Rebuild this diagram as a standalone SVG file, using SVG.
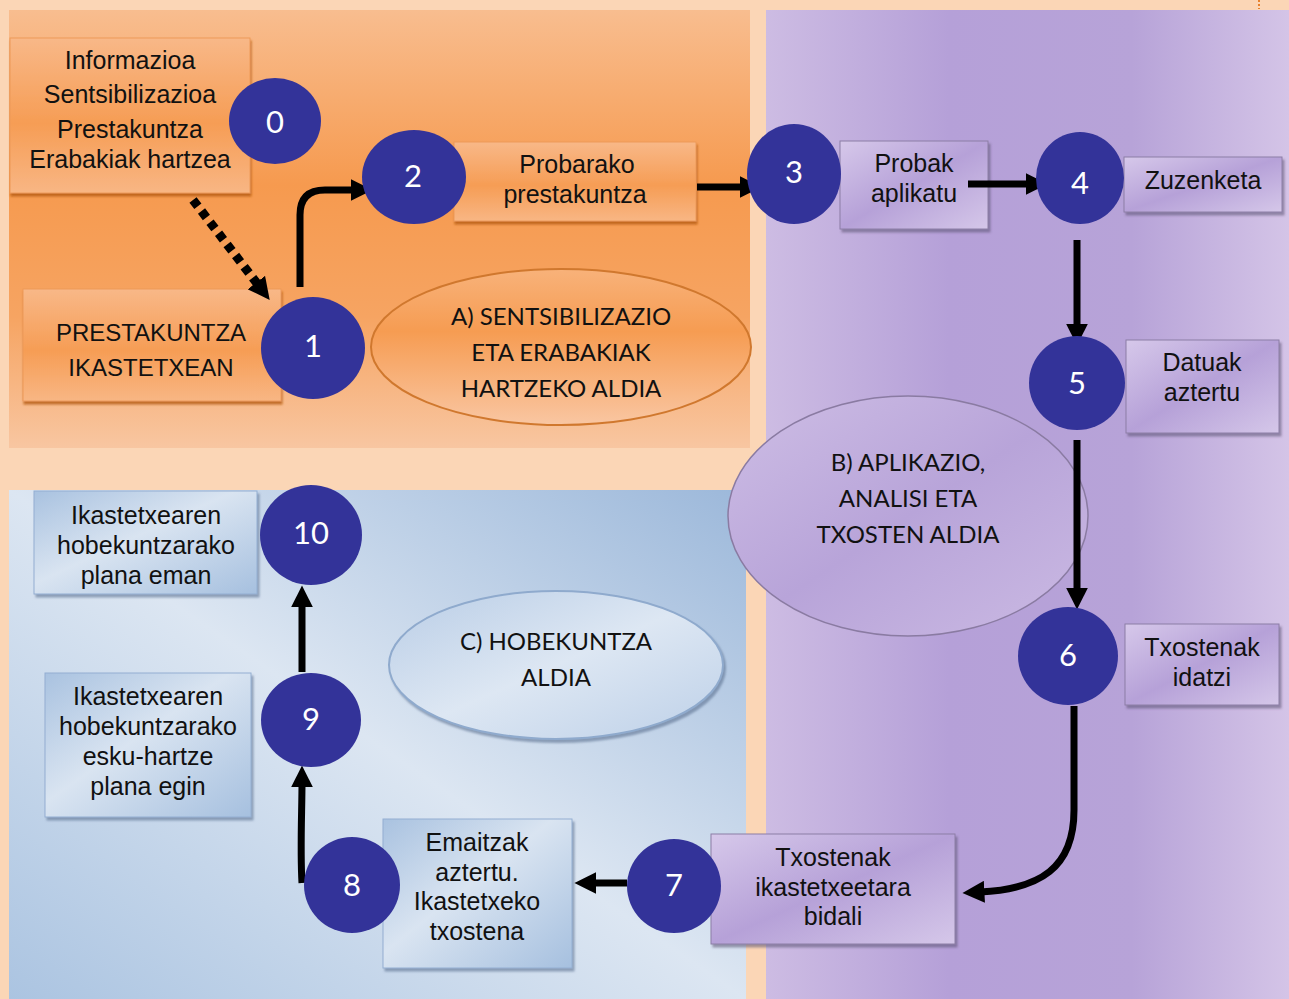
<svg xmlns="http://www.w3.org/2000/svg" width="1289" height="999" viewBox="0 0 1289 999">
<defs>
<linearGradient id="gOrangePanel" x1="0" y1="0" x2="0" y2="1">
<stop offset="0" stop-color="#F8BD8F"/><stop offset="0.4" stop-color="#F69A4F"/><stop offset="0.7" stop-color="#F6A462"/><stop offset="1" stop-color="#F8C6A1"/>
</linearGradient>
<linearGradient id="gPurplePanel" x1="0" y1="0" x2="1" y2="0">
<stop offset="0" stop-color="#CDBCE3"/><stop offset="0.35" stop-color="#B5A0D8"/><stop offset="0.7" stop-color="#B7A3D8"/><stop offset="1" stop-color="#D4C4E7"/>
</linearGradient>
<linearGradient id="gBluePanel" x1="1" y1="0" x2="0" y2="1">
<stop offset="0" stop-color="#9CB8DA"/><stop offset="0.5" stop-color="#DCE6F2"/><stop offset="1" stop-color="#ABC4E1"/>
</linearGradient>
<linearGradient id="gOrangeBox" x1="0" y1="0" x2="0" y2="1">
<stop offset="0" stop-color="#F8B888"/><stop offset="0.55" stop-color="#F69D55"/><stop offset="1" stop-color="#F8B684"/>
</linearGradient>
<linearGradient id="gPurpleBox" x1="0" y1="0" x2="1" y2="1">
<stop offset="0" stop-color="#D6C8EA"/><stop offset="0.5" stop-color="#B6A1D8"/><stop offset="1" stop-color="#D5C7E9"/>
</linearGradient>
<linearGradient id="gBlueBox" x1="0" y1="0" x2="1" y2="1">
<stop offset="0" stop-color="#A9C2E0"/><stop offset="0.45" stop-color="#D9E4F1"/><stop offset="1" stop-color="#A6C0DF"/>
</linearGradient>
<linearGradient id="gEllA" x1="0" y1="0" x2="0" y2="1">
<stop offset="0" stop-color="#F8B27A"/><stop offset="0.4" stop-color="#F69C52"/><stop offset="1" stop-color="#F9C6A2"/>
</linearGradient>
<linearGradient id="gEllB" x1="0" y1="0" x2="1" y2="1">
<stop offset="0" stop-color="#CEBEE5"/><stop offset="0.5" stop-color="#B8A4D9"/><stop offset="1" stop-color="#CBBAE3"/>
</linearGradient>
<linearGradient id="gEllC" x1="0" y1="0" x2="1" y2="1">
<stop offset="0" stop-color="#B9CDE6"/><stop offset="0.5" stop-color="#DDE7F3"/><stop offset="1" stop-color="#BDD0E8"/>
</linearGradient>
<filter id="shO" x="-10%" y="-10%" width="120%" height="130%"><feDropShadow dx="1" dy="3" stdDeviation="1" flood-color="#B55A10" flood-opacity="0.8"/></filter>
<filter id="shG" x="-10%" y="-10%" width="120%" height="130%"><feDropShadow dx="2" dy="3" stdDeviation="1.2" flood-color="#5A5070" flood-opacity="0.55"/></filter>
<filter id="shB" x="-10%" y="-10%" width="120%" height="130%"><feDropShadow dx="2" dy="3" stdDeviation="1.2" flood-color="#5A7090" flood-opacity="0.6"/></filter>
<marker id="ah" viewBox="0 0 10 10" refX="2" refY="5" markerWidth="22" markerHeight="22" markerUnits="userSpaceOnUse" orient="auto">
<path d="M0,0 L10,5 L0,10 z" fill="#000"/>
</marker>
<style>
.circ{fill:#333399}
.num{font-family:Lato,"Open Sans",sans-serif;font-size:31px;fill:#fff;text-anchor:middle;dominant-baseline:central}
.bt{font-family:"Liberation Sans",Arial,sans-serif;font-size:25px;fill:#111;text-anchor:middle;dominant-baseline:central}
.et{font-family:Lato,"Open Sans",sans-serif;font-size:24px;fill:#111;text-anchor:middle;dominant-baseline:central}
.obox{fill:url(#gOrangeBox);stroke:#EE9A58;stroke-width:1;filter:url(#shO)}
.pbox{fill:url(#gPurpleBox);stroke:#8C7EA6;stroke-width:1;filter:url(#shG)}
.bbox{fill:url(#gBlueBox);stroke:#93AED2;stroke-width:1;filter:url(#shB)}
.conn{fill:none;stroke:#000;stroke-width:7;marker-end:url(#ah)}
</style>
</defs>

<rect x="0" y="0" width="1289" height="999" fill="#FBD6B6"/>
<line x1="1259" y1="0" x2="1259" y2="9" stroke="#E8822E" stroke-width="2" stroke-dasharray="2 2"/>

<g id="panels">
<rect x="9" y="10" width="741" height="438" fill="url(#gOrangePanel)"/>
<rect x="766" y="10" width="523" height="989" fill="url(#gPurplePanel)"/>
<rect x="9" y="490" width="737" height="509" fill="url(#gBluePanel)"/>
</g>

<g id="phaseA">
<ellipse cx="561" cy="347" rx="190" ry="78" fill="url(#gEllA)" stroke="#D0782E" stroke-width="2"/>
<text class="et" x="561" y="315">A) SENTSIBILIZAZIO</text>
<text class="et" x="561" y="351">ETA ERABAKIAK</text>
<text class="et" x="561" y="387">HARTZEKO ALDIA</text>
</g>
<g id="phaseB">
<ellipse cx="908" cy="516" rx="180" ry="120" fill="url(#gEllB)" stroke="#8A7BA2" stroke-width="1.5"/>
<text class="et" x="908" y="461">B) APLIKAZIO,</text>
<text class="et" x="908" y="497">ANALISI ETA</text>
<text class="et" x="908" y="533">TXOSTEN ALDIA</text>
</g>
<g id="phaseC">
<ellipse cx="556" cy="665" rx="167" ry="74" fill="url(#gEllC)" stroke="#8FAACD" stroke-width="2" filter="url(#shB)"/>
<text class="et" x="556" y="640">C) HOBEKUNTZA</text>
<text class="et" x="556" y="676">ALDIA</text>
</g>

<g id="box-info">
<rect class="obox" x="10" y="38" width="240" height="155"/>
<text class="bt" x="130" y="60">Informazioa</text>
<text class="bt" x="130" y="94">Sentsibilizazioa</text>
<text class="bt" x="130" y="129">Prestakuntza</text>
<text class="bt" x="130" y="159">Erabakiak hartzea</text>
</g>
<g id="box-prestakuntza">
<rect class="obox" x="23" y="289" width="258" height="112"/>
<text class="bt" x="151" y="332" style="font-size:24px">PRESTAKUNTZA</text>
<text class="bt" x="151" y="367" style="font-size:24px">IKASTETXEAN</text>
</g>
<g id="box-probarako">
<rect class="obox" x="454" y="142" width="242" height="79"/>
<text class="bt" x="577" y="164">Probarako</text>
<text class="bt" x="575" y="194">prestakuntza</text>
</g>
<g id="box-probak">
<rect class="pbox" x="840" y="141" width="148" height="88"/>
<text class="bt" x="914" y="163">Probak</text>
<text class="bt" x="914" y="193">aplikatu</text>
</g>
<g id="box-zuzenketa">
<rect class="pbox" x="1124" y="157" width="158" height="55"/>
<text class="bt" x="1203" y="180">Zuzenketa</text>
</g>
<g id="box-datuak">
<rect class="pbox" x="1126" y="340" width="153" height="93"/>
<text class="bt" x="1202" y="362">Datuak</text>
<text class="bt" x="1202" y="392">aztertu</text>
</g>
<g id="box-txostenak">
<rect class="pbox" x="1125" y="624" width="154" height="81"/>
<text class="bt" x="1202" y="647">Txostenak</text>
<text class="bt" x="1202" y="677">idatzi</text>
</g>
<g id="box-bidali">
<rect class="pbox" x="711" y="834" width="244" height="110"/>
<text class="bt" x="833" y="857">Txostenak</text>
<text class="bt" x="833" y="887">ikastetxeetara</text>
<text class="bt" x="833" y="916">bidali</text>
</g>
<g id="box-emaitzak">
<rect class="bbox" x="383" y="819" width="189" height="149"/>
<text class="bt" x="477" y="842">Emaitzak</text>
<text class="bt" x="477" y="872">aztertu.</text>
<text class="bt" x="477" y="901">Ikastetxeko</text>
<text class="bt" x="477" y="931">txostena</text>
</g>
<g id="box-eskuhartze">
<rect class="bbox" x="45" y="673" width="206" height="144"/>
<text class="bt" x="148" y="696">Ikastetxearen</text>
<text class="bt" x="148" y="726">hobekuntzarako</text>
<text class="bt" x="148" y="756">esku-hartze</text>
<text class="bt" x="148" y="786">plana egin</text>
</g>
<g id="box-plana">
<rect class="bbox" x="34" y="491" width="223" height="103"/>
<text class="bt" x="146" y="515">Ikastetxearen</text>
<text class="bt" x="146" y="545">hobekuntzarako</text>
<text class="bt" x="146" y="575">plana eman</text>
</g>

<g id="connectors">
<path d="M193,200 L259,286" fill="none" stroke="#000" stroke-width="9" stroke-dasharray="8 6" marker-end="url(#ah)"/>
<path class="conn" d="M300,287 L300,215 Q300,190 325,190 L355,190"/>
<path class="conn" d="M697,187 L744,187"/>
<path class="conn" d="M968,184 L1030,184"/>
<path class="conn" d="M1077,240 L1077,328"/>
<path class="conn" d="M1077,440 L1077,592"/>
<path class="conn" d="M1074,706 L1074,810 C1074,868 1040,889 980,892"/>
<path class="conn" d="M627,883 L592,883"/>
<path class="conn" d="M302,883 C300,850 302,810 302,783"/>
<path class="conn" d="M302,672 L302,603"/>
</g>

<g id="n0"><ellipse class="circ" cx="275" cy="121" rx="46" ry="43"/><text class="num" x="275" y="121">0</text></g>
<g id="n1"><ellipse class="circ" cx="313" cy="348" rx="52" ry="51"/><text class="num" x="313" y="345">1</text></g>
<g id="n2"><ellipse class="circ" cx="414" cy="177" rx="52" ry="47"/><text class="num" x="413" y="175">2</text></g>
<g id="n3"><ellipse class="circ" cx="794" cy="174" rx="47" ry="50"/><text class="num" x="794" y="171">3</text></g>
<g id="n4"><ellipse class="circ" cx="1080" cy="178" rx="44" ry="46"/><text class="num" x="1080" y="182">4</text></g>
<g id="n5"><ellipse class="circ" cx="1077" cy="383" rx="48" ry="47"/><text class="num" x="1077" y="382">5</text></g>
<g id="n6"><ellipse class="circ" cx="1068" cy="656" rx="50" ry="49"/><text class="num" x="1068" y="654">6</text></g>
<g id="n7"><ellipse class="circ" cx="674" cy="886" rx="47" ry="47"/><text class="num" x="674" y="884">7</text></g>
<g id="n8"><ellipse class="circ" cx="352" cy="885" rx="48" ry="48"/><text class="num" x="352" y="884">8</text></g>
<g id="n9"><ellipse class="circ" cx="311" cy="720" rx="50" ry="47"/><text class="num" x="311" y="718">9</text></g>
<g id="n10"><ellipse class="circ" cx="311" cy="535" rx="51" ry="50"/><text class="num" x="311" y="532">10</text></g>
</svg>
